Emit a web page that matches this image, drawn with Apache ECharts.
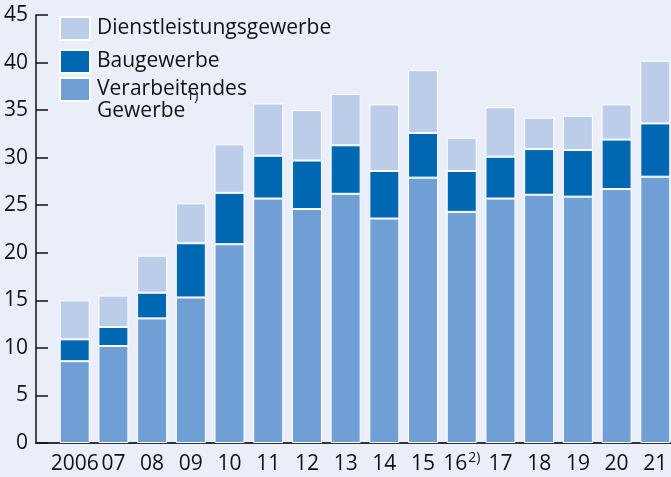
<!DOCTYPE html>
<html>
<head>
<meta charset="utf-8">
<script src="https://cdn.jsdelivr.net/npm/echarts@6/dist/echarts.min.js"></script>
<style>
  html, body { margin: 0; padding: 0; background: #e9eef9; }
  #chart { width: 671px; height: 477px; }
</style>
</head>
<body>
<div id="chart"></div>
<script>
    const years = ['2006', '07', '08', '09', '10', '11', '12', '13', '14', '15', '16', '17', '18', '19', '20', '21'];
    const footnoteYear = '16';

    // Anteile je Sektor (gestapelt)
    const verarbeitendes = [8.6, 10.2, 13.1, 15.3, 20.9, 25.7, 24.6, 26.2, 23.6, 27.9, 24.3, 25.7, 26.1, 25.9, 26.7, 28.0];
    const baugewerbe = [2.3, 2.0, 2.7, 5.7, 5.4, 4.5, 5.1, 5.1, 5.0, 4.7, 4.3, 4.4, 4.8, 4.9, 5.2, 5.6];
    const dienstleistung = [4.1, 3.3, 3.9, 4.2, 5.1, 5.5, 5.3, 5.4, 7.0, 6.6, 3.5, 5.2, 3.3, 3.6, 3.7, 6.6];

    const yTicks = { min: 0, max: 45, interval: 5 };

    const FONT = '"Open Sans", "Liberation Sans", Arial, sans-serif';
    const NAME_V = 'Verarbeitendes Gewerbe';
    const NAME_B = 'Baugewerbe';
    const NAME_D = 'Dienstleistungsgewerbe';

    // leere Kategorie vorn und hinten, damit die Achse am Rand beginnt
    const categories = [''].concat(years, ['']);
    const pad = (arr) => [null].concat(arr, [null]);

    function barSeries(name, data, color) {
        return {
            name: name,
            type: 'bar',
            stack: 'total',
            barWidth: 30,
            clip: false,
            itemStyle: { color: color, borderColor: '#ffffff', borderWidth: 1 },
            data: pad(data),
        };
    }

    const chart = echarts.init(document.getElementById('chart'));
    chart.setOption({
        animation: false,
        backgroundColor: '#e9eef9',
        textStyle: { fontFamily: FONT },
        grid: { left: 36, right: -23, top: 15, bottom: 34, outerBoundsMode: 'none', containLabel: false },
        legend: [
            {
                data: [NAME_D, NAME_B],
                orient: 'vertical',
                left: 59,
                top: 16,
                padding: 0,
                itemGap: 8,
                itemWidth: 30,
                itemHeight: 23,
                icon: 'rect',
                selectedMode: false,
                textStyle: { fontFamily: FONT, fontSize: 21, color: '#111', padding: [0, 0, 0, 2] },
            },
            {
                data: [NAME_V],
                orient: 'vertical',
                left: 59,
                top: 77,
                padding: 0,
                itemWidth: 30,
                itemHeight: 23,
                icon: 'rect',
                selectedMode: false,
                formatter: function () {
                    return '{t|Verarbeitendes}\n{t|Gewerbe}{s|1)}';
                },
                textStyle: {
                    fontFamily: FONT,
                    color: '#111',
                    padding: [22, 0, 0, 2],
                    rich: {
                        t: { fontFamily: FONT, fontSize: 21, lineHeight: 22, color: '#111' },
                        s: {
                            fontFamily: FONT, fontSize: 14, lineHeight: 14, verticalAlign: 'top',
                            padding: [-11, 0, 11, 1], color: '#111',
                        },
                    },
                },
            },
        ],
        xAxis: {
            type: 'category',
            data: categories,
            boundaryGap: false,
            axisLine: { lineStyle: { color: '#333', width: 2 } },
            axisTick: { show: false },
            axisLabel: {
                interval: 0,
                margin: 11,
                color: '#111',
                fontFamily: FONT,
                fontSize: 21,
                formatter: function (v) {
                    return v === footnoteYear ? '{n|' + v + '}{s|2)}' : v;
                },
                rich: {
                    n: { fontFamily: FONT, fontSize: 21, color: '#111' },
                    s: {
                        fontFamily: FONT, fontSize: 14, lineHeight: 14, verticalAlign: 'top',
                        padding: [-3, 0, 3, 1], color: '#111',
                    },
                },
            },
        },
        yAxis: {
            type: 'value',
            min: yTicks.min,
            max: yTicks.max,
            interval: yTicks.interval,
            axisLine: { show: true, lineStyle: { color: '#111', width: 1.5 } },
            axisTick: { show: true, inside: true, length: 12, lineStyle: { color: '#111', width: 1.5 } },
            axisLabel: { margin: 8, color: '#111', fontFamily: FONT, fontSize: 21 },
            splitLine: { show: false },
        },
        series: [
            barSeries(NAME_V, verarbeitendes, '#6f9fd4'),
            barSeries(NAME_B, baugewerbe, '#0068b3'),
            barSeries(NAME_D, dienstleistung, '#bccde9'),
        ],
    });
</script>
</body>
</html>
